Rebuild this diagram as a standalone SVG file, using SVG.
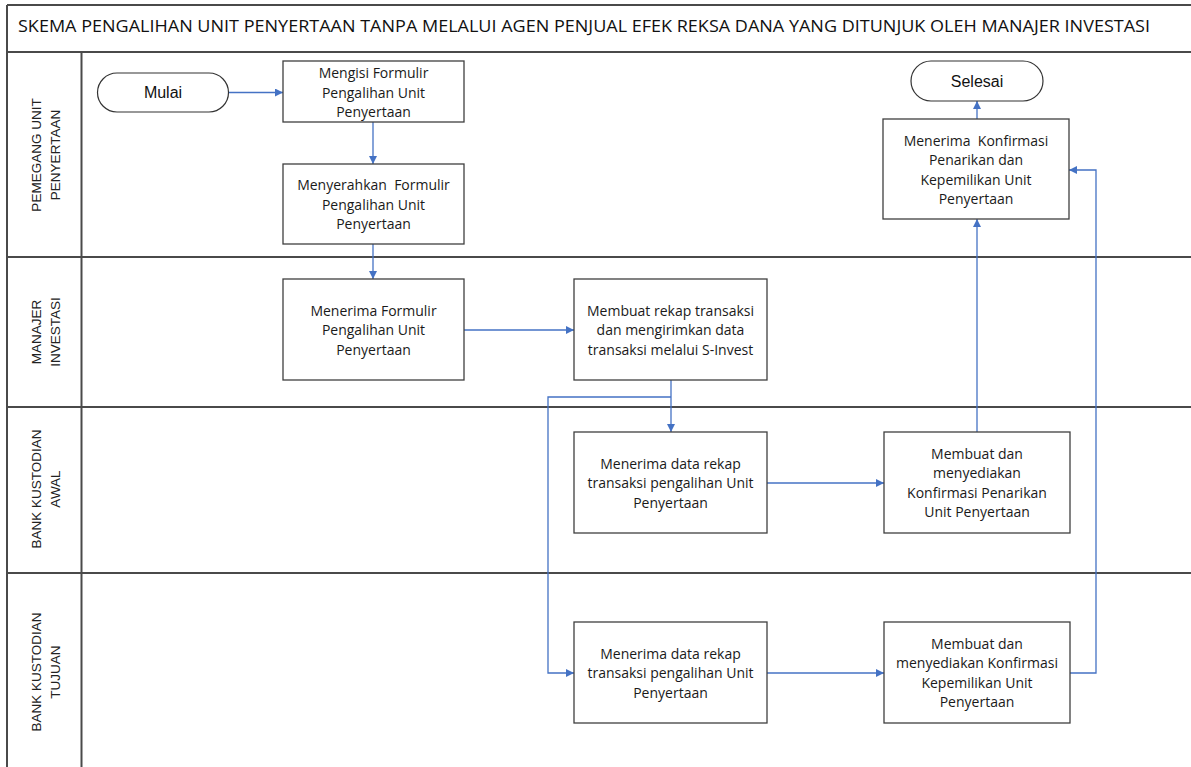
<svg xmlns="http://www.w3.org/2000/svg" width="1191" height="767" viewBox="0 0 1191 767">
<style>
.lane{stroke:#4a4a4a;stroke-width:2;fill:none}
.box{fill:#fff;stroke:#3f3f3f;stroke-width:1.3}
.term{fill:#fff;stroke:#333;stroke-width:1.2}
.t{font-family:"Open Sans","Noto Sans",sans-serif;font-size:14px;fill:#1a1a1a;text-anchor:middle;white-space:pre}
.tt{font-family:"Liberation Sans",Arial,sans-serif;font-size:16px;fill:#111;text-anchor:middle}
.ll{font-family:"Liberation Sans",Arial,sans-serif;font-size:13.5px;fill:#222;text-anchor:middle}
.title{font-family:"Open Sans","Noto Sans",sans-serif;font-size:17px;fill:#111}
.c{stroke:#4472C4;stroke-width:1.3;fill:none}
</style>
<defs>
<marker id="ah" viewBox="0 0 10 10" refX="10" refY="5" markerWidth="8" markerHeight="8" markerUnits="userSpaceOnUse" orient="auto">
<path d="M0,0 L10,5 L0,10 z" fill="#4472C4"/>
</marker>
</defs>
<rect width="1191" height="767" fill="#fff"/>
<g id="swimlanes">
<line class="lane" x1="7" y1="5" x2="1191" y2="5"/>
<line class="lane" x1="7" y1="5" x2="7" y2="767"/>
<line class="lane" x1="7" y1="52" x2="1191" y2="52"/>
<line class="lane" x1="7" y1="257" x2="1191" y2="257"/>
<line class="lane" x1="7" y1="407" x2="1191" y2="407"/>
<line class="lane" x1="7" y1="573" x2="1191" y2="573"/>
<line class="lane" x1="81.5" y1="52" x2="81.5" y2="767"/>
<text class="title" x="18" y="31.5" textLength="1132" lengthAdjust="spacingAndGlyphs">SKEMA PENGALIHAN UNIT PENYERTAAN TANPA MELALUI AGEN PENJUAL EFEK REKSA DANA YANG DITUNJUK OLEH MANAJER INVESTASI</text>
<g transform="translate(45,155) rotate(-90)"><text class="ll"><tspan x="0" y="-4.5">PEMEGANG UNIT</tspan><tspan x="0" y="15">PENYERTAAN</tspan></text></g>
<g transform="translate(45,332) rotate(-90)"><text class="ll"><tspan x="0" y="-4.5">MANAJER</tspan><tspan x="0" y="15">INVESTASI</tspan></text></g>
<g transform="translate(45,489) rotate(-90)"><text class="ll"><tspan x="0" y="-4.5">BANK KUSTODIAN</tspan><tspan x="0" y="15">AWAL</tspan></text></g>
<g transform="translate(45,672) rotate(-90)"><text class="ll"><tspan x="0" y="-4.5">BANK KUSTODIAN</tspan><tspan x="0" y="15">TUJUAN</tspan></text></g>
</g>
<g id="connectors">
<line class="c" x1="229" y1="92.5" x2="283" y2="92.5" marker-end="url(#ah)"/>
<line class="c" x1="373" y1="122" x2="373" y2="164" marker-end="url(#ah)"/>
<line class="c" x1="373" y1="244" x2="373" y2="279" marker-end="url(#ah)"/>
<line class="c" x1="464" y1="330" x2="574" y2="330" marker-end="url(#ah)"/>
<line class="c" x1="671" y1="380" x2="671" y2="432" marker-end="url(#ah)"/>
<polyline class="c" points="671,397 548,397 548,673 574,673" marker-end="url(#ah)"/>
<line class="c" x1="767" y1="483" x2="884" y2="483" marker-end="url(#ah)"/>
<line class="c" x1="977" y1="432" x2="977" y2="219" marker-end="url(#ah)"/>
<line class="c" x1="977" y1="119" x2="977" y2="101" marker-end="url(#ah)"/>
<line class="c" x1="767" y1="673" x2="884" y2="673" marker-end="url(#ah)"/>
<polyline class="c" points="1070,673 1096,673 1096,170 1069,170" marker-end="url(#ah)"/>
</g>
<g id="mulai">
<rect class="term" x="97.5" y="73" width="131" height="39" rx="19.5"/>
<text class="tt" x="163" y="98">Mulai</text>
</g>
<g id="mengisi">
<rect class="box" x="283" y="61" width="181" height="61"/>
<text class="t"><tspan x="373.5" y="78">Mengisi Formulir</tspan><tspan x="373.5" y="97.5">Pengalihan Unit</tspan><tspan x="373.5" y="117">Penyertaan</tspan></text>
</g>
<g id="menyerahkan">
<rect class="box" x="283" y="164" width="181" height="80"/>
<text class="t"><tspan x="373.5" y="190">Menyerahkan  Formulir</tspan><tspan x="373.5" y="209.5">Pengalihan Unit</tspan><tspan x="373.5" y="229">Penyertaan</tspan></text>
</g>
<g id="menerima-formulir">
<rect class="box" x="283" y="279" width="181" height="101"/>
<text class="t"><tspan x="373.5" y="315.5">Menerima Formulir</tspan><tspan x="373.5" y="335">Pengalihan Unit</tspan><tspan x="373.5" y="354.5">Penyertaan</tspan></text>
</g>
<g id="membuat-rekap">
<rect class="box" x="574" y="279" width="193" height="101"/>
<text class="t"><tspan x="670.5" y="315.5">Membuat rekap transaksi</tspan><tspan x="670.5" y="335">dan mengirimkan data</tspan><tspan x="670.5" y="354.5">transaksi melalui S-Invest</tspan></text>
</g>
<g id="menerima-rekap-awal">
<rect class="box" x="574" y="432" width="193" height="101"/>
<text class="t"><tspan x="670.5" y="468.5">Menerima data rekap</tspan><tspan x="670.5" y="488">transaksi pengalihan Unit</tspan><tspan x="670.5" y="507.5">Penyertaan</tspan></text>
</g>
<g id="membuat-konfirmasi-penarikan">
<rect class="box" x="884" y="432" width="186" height="101"/>
<text class="t"><tspan x="977" y="458.5">Membuat dan</tspan><tspan x="977" y="478">menyediakan</tspan><tspan x="977" y="497.5">Konfirmasi Penarikan</tspan><tspan x="977" y="517">Unit Penyertaan</tspan></text>
</g>
<g id="menerima-rekap-tujuan">
<rect class="box" x="574" y="622" width="193" height="101"/>
<text class="t"><tspan x="670.5" y="658.5">Menerima data rekap</tspan><tspan x="670.5" y="678">transaksi pengalihan Unit</tspan><tspan x="670.5" y="697.5">Penyertaan</tspan></text>
</g>
<g id="membuat-konfirmasi-kepemilikan">
<rect class="box" x="884" y="622" width="186" height="101"/>
<text class="t"><tspan x="977" y="648.5">Membuat dan</tspan><tspan x="977" y="668">menyediakan Konfirmasi</tspan><tspan x="977" y="687.5">Kepemilikan Unit</tspan><tspan x="977" y="707">Penyertaan</tspan></text>
</g>
<g id="menerima-konfirmasi">
<rect class="box" x="883" y="119" width="186" height="100"/>
<text class="t"><tspan x="976" y="145.5">Menerima  Konfirmasi</tspan><tspan x="976" y="165">Penarikan dan</tspan><tspan x="976" y="184.5">Kepemilikan Unit</tspan><tspan x="976" y="204">Penyertaan</tspan></text>
</g>
<g id="selesai">
<rect class="term" x="911" y="61" width="132" height="40" rx="20"/>
<text class="tt" x="977" y="87">Selesai</text>
</g>
</svg>
